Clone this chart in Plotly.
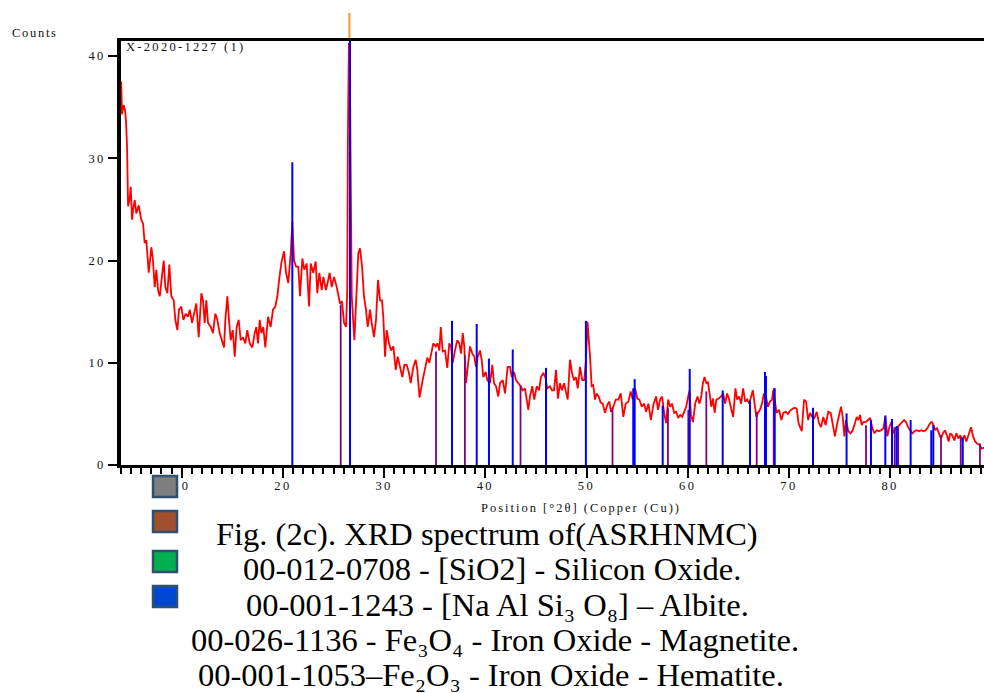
import plotly.graph_objects as go

# ---------------- data ----------------
two_theta = [4.02, 4.1, 4.25, 4.4, 4.5, 4.6, 4.7, 4.85, 4.96, 5.09, 5.2, 5.36, 5.51, 5.75, 6.0, 6.18, 6.34, 6.5, 6.74,
             7.0, 7.16, 7.33, 7.49, 7.66, 7.83, 7.99, 8.22, 8.38, 8.58, 8.78, 8.97, 9.21, 9.37, 9.57, 9.73, 9.96,
             10.16, 10.4, 10.62, 10.79, 11.02, 11.22, 11.44, 11.68, 11.94, 12.1, 12.27, 12.43, 12.6, 12.87, 13.09,
             13.32, 13.52, 13.75, 13.98, 14.18, 14.31, 14.51, 14.67, 14.84, 15.04, 15.24, 15.43, 15.63, 15.83,
             16.06, 16.28, 16.48, 16.72, 16.98, 17.21, 17.37, 17.54, 17.71, 17.87, 18.06, 18.26, 18.53, 18.79,
             19.02, 19.25, 19.45, 19.65, 19.85, 20.11, 20.31, 20.53, 20.77, 20.93, 21.1, 21.3, 21.52, 21.69, 21.92,
             22.11, 22.35, 22.58, 22.75, 23.0, 23.24, 23.4, 23.6, 23.83, 24.0, 24.26, 24.43, 24.62, 24.82, 25.05,
             25.32, 25.47, 25.64, 25.84, 26.04, 26.24, 26.36, 26.42, 26.52, 26.63, 26.72, 26.8, 27.06, 27.22, 27.45,
             27.62, 27.82, 28.01, 28.21, 28.38, 28.61, 28.77, 29.0, 29.2, 29.4, 29.6, 29.79, 29.92, 30.09, 30.26,
             30.48, 30.68, 30.91, 31.15, 31.34, 31.57, 31.8, 32.0, 32.23, 32.46, 32.63, 32.89, 33.12, 33.28, 33.5,
             33.81, 34.04, 34.27, 34.47, 34.7, 34.86, 35.1, 35.26, 35.46, 35.6, 35.79, 36.02, 36.24, 36.44, 36.61,
             36.78, 37.0, 37.23, 37.43, 37.6, 37.77, 37.92, 38.09, 38.26, 38.49, 38.71, 38.91, 39.08, 39.25, 39.48,
             39.64, 39.8, 40.04, 40.2, 40.46, 40.69, 40.86, 41.06, 41.28, 41.45, 41.72, 41.95, 42.21, 42.44, 42.61,
             42.84, 43.03, 43.26, 43.5, 43.69, 43.92, 44.09, 44.25, 44.42, 44.64, 44.84, 45.08, 45.31, 45.5, 45.73,
             45.93, 46.13, 46.39, 46.59, 46.79, 46.99, 47.18, 47.38, 47.58, 47.78, 47.97, 48.14, 48.37, 48.57,
             48.76, 48.96, 49.13, 49.36, 49.58, 49.78, 49.95, 50.1, 50.35, 50.51, 50.67, 50.84, 51.0, 51.2, 51.4,
             51.6, 51.83, 52.06, 52.26, 52.42, 52.65, 52.89, 53.14, 53.38, 53.64, 53.87, 54.13, 54.37, 54.57, 54.8,
             55.02, 55.22, 55.46, 55.69, 55.89, 56.12, 56.36, 56.61, 56.88, 57.07, 57.27, 57.47, 57.67, 57.87,
             58.07, 58.27, 58.46, 58.66, 58.86, 59.06, 59.26, 59.45, 59.65, 59.85, 60.05, 60.18, 60.32, 60.52,
             60.74, 60.97, 61.17, 61.34, 61.5, 61.66, 61.84, 62.0, 62.16, 62.33, 62.5, 62.66, 62.83, 63.06, 63.3,
             63.5, 63.7, 63.9, 64.09, 64.29, 64.49, 64.72, 64.89, 65.09, 65.28, 65.48, 65.68, 65.88, 66.08, 66.27,
             66.44, 66.61, 66.78, 66.94, 67.14, 67.34, 67.53, 67.73, 67.93, 68.13, 68.33, 68.46, 68.62, 68.79,
             69.02, 69.26, 69.45, 69.68, 69.91, 70.11, 70.35, 70.58, 70.78, 70.95, 71.11, 71.27, 71.5, 71.7, 71.9,
             72.09, 72.31, 72.51, 72.75, 72.97, 73.17, 73.4, 73.63, 73.89, 74.13, 74.33, 74.55, 74.78, 74.98,
             75.15, 75.32, 75.48, 75.64, 75.87, 76.1, 76.3, 76.53, 76.7, 76.86, 77.03, 77.19, 77.36, 77.59, 77.79,
             78.02, 78.25, 78.45, 78.68, 78.91, 79.11, 79.34, 79.53, 79.73, 79.93, 80.13, 80.33, 80.53, 80.73,
             80.92, 81.16, 81.38, 81.58, 81.78, 81.98, 82.2, 82.4, 82.64, 82.87, 83.1, 83.3, 83.53, 83.73, 83.96,
             84.13, 84.29, 84.46, 84.63, 84.83, 85.02, 85.22, 85.42, 85.62, 85.78, 85.95, 86.15, 86.35, 86.55,
             86.75, 86.94, 87.14, 87.34, 87.54, 87.77, 88.0, 88.2, 88.4, 88.59, 88.79, 89.05, 89.3]

counts = [37.5, 34.3, 35.2, 34.7, 33.5, 31.1, 25.3, 26.0, 27.2, 24.0, 25.0, 25.9, 24.6, 25.4, 24.0, 23.6, 21.7, 22.0, 18.8,
          21.3, 20.0, 17.4, 19.1, 17.1, 16.5, 18.1, 20.0, 17.4, 16.8, 19.6, 16.5, 16.1, 14.2, 13.2, 15.2, 15.5,
          14.2, 14.8, 14.5, 15.2, 13.9, 14.8, 15.8, 12.5, 16.8, 16.1, 13.9, 16.1, 13.9, 13.5, 12.9,
          14.8, 14.2, 12.9, 12.2, 11.5, 14.2, 16.5, 14.2, 12.2, 13.2, 10.6, 13.5, 14.2, 12.2,
          12.5, 11.9, 13.2, 11.9, 11.5, 12.9, 13.5, 11.9, 14.2, 12.9, 13.5, 11.5, 14.5, 13.5,
          15.2, 15.5, 16.5, 18.3, 19.8, 20.9, 18.8, 17.8, 20.7, 23.8, 20.0, 19.4, 19.4, 16.5, 20.2,
          19.1, 19.7, 15.5, 19.7, 18.8, 19.9, 16.8, 18.8, 17.1, 18.4, 17.1, 18.1, 18.8, 17.4, 18.4,
          17.4, 16.5, 15.8, 16.0, 13.9, 13.5, 17.1, 32.0, 41.3, 36.5, 25.0, 16.5, 12.2, 15.8, 20.7,
          21.2, 19.4, 16.5, 15.2, 13.5, 15.2, 13.9, 12.5, 14.2, 18.1, 16.1, 16.1, 14.5, 10.6, 13.2,
          11.9, 11.2, 11.6, 9.3, 10.6, 9.6, 8.6, 9.8, 9.8, 9.0, 8.0, 9.6, 10.3, 9.3, 6.6,
          8.3, 9.6, 10.5, 10.0, 11.2, 11.9, 11.6, 11.9, 11.2, 13.5, 11.1, 11.2, 9.5, 11.9, 11.6,
          10.0, 11.2, 12.2, 11.9, 10.9, 12.9, 11.6, 8.0, 9.6, 11.6, 10.9, 10.6, 9.6, 10.6, 11.2,
          10.3, 8.6, 9.1, 8.3, 8.0, 9.8, 8.0, 7.7, 6.7, 8.0, 8.3, 7.0, 9.6, 9.6, 8.6,
          9.1, 8.3, 8.0, 7.7, 7.3, 7.5, 6.4, 5.4, 6.7, 7.7, 6.4, 7.7, 7.3, 8.6, 9.0,
          8.6, 7.5, 7.7, 7.3, 7.3, 9.3, 6.5, 8.0, 7.3, 8.0, 7.0, 6.4, 10.3, 9.0,
          8.3, 8.6, 7.5, 9.6, 8.3, 8.3, 10.3, 14.0, 10.6, 7.7, 7.8, 6.4, 7.0, 6.7, 6.1,
          6.0, 5.1, 5.9, 6.2, 5.2, 5.7, 6.4, 6.4, 7.0, 4.7, 6.0, 6.2, 7.2, 6.4, 7.5,
          6.5, 6.4, 5.7, 6.0, 5.2, 6.0, 4.4, 5.9, 6.7, 5.4, 6.4, 6.7, 5.1, 4.1,
          6.4, 5.7, 6.0, 5.1, 5.2, 4.6, 4.9, 4.7, 5.2, 5.7, 6.7, 7.3, 4.9, 4.2,
          6.0, 6.7, 6.0, 6.7, 8.0, 8.6, 8.0, 8.1, 7.0, 5.7, 6.5, 5.1, 6.4, 6.5, 6.7,
          7.0, 6.0, 7.0, 6.4, 5.5, 4.7, 7.5, 6.4, 6.7, 6.0, 7.5, 6.2, 6.4, 6.0, 6.7,
          7.3, 6.0, 4.7, 5.1, 5.4, 6.0, 7.0, 6.7, 5.7, 6.2, 6.4, 7.3, 6.4, 5.1,
          5.4, 4.4, 5.1, 5.2, 5.0, 5.3, 5.5, 5.6, 5.5, 4.1, 3.7, 3.3, 6.4, 6.2, 4.4,
          5.1, 4.7, 4.6, 5.2, 4.1, 3.7, 4.7, 3.9, 5.2, 5.1, 4.1, 2.8, 4.1, 5.1,
          5.7, 4.7, 2.8, 4.4, 3.3, 3.1, 3.4, 4.1, 4.7, 4.4, 4.9, 3.9, 4.2, 4.2, 4.4,
          4.6, 3.6, 3.1, 3.4, 3.3, 3.4, 3.6, 4.7, 2.8, 3.7, 4.2, 3.1, 3.6, 3.7,
          3.9, 4.1, 4.4, 4.2, 3.7, 3.4, 3.1, 3.3, 3.4, 3.3, 3.4, 3.3, 3.4, 3.7, 4.1,
          4.2, 3.9, 3.4, 3.6, 3.1, 2.6, 3.1, 3.4, 2.9, 2.3, 3.1, 2.9, 2.4, 3.1,
          2.6, 2.9, 2.4, 2.9, 2.3, 3.1, 3.7, 2.8, 2.3, 2.1, 2.0, 1.6, 1.7]

# reference pattern sticks (blue)
blue_pos = [20.93, 26.63, 36.71, 39.15, 40.36, 42.71, 46.0, 49.94, 54.62, 54.76, 57.53, 60.2, 63.46, 66.16,
            67.64, 67.74, 68.6, 72.38, 75.7, 78.11, 79.53, 80.19, 80.65, 82.03, 84.07, 84.27, 87.18]
blue_h = [29.6, 42.0, 14.1, 13.8, 10.4, 11.3, 9.5, 14.1, 7.5, 8.4, 5.8, 9.4, 7.3, 6.3,
          9.1, 8.7, 7.5, 5.6, 5.05, 4.4, 4.85, 4.5, 3.8, 4.4, 3.4, 3.9, 2.7]

# reference pattern sticks (purple)
purple_pos = [25.71, 35.13, 37.98, 43.48, 52.57, 58.05, 60.06, 61.84, 66.82, 68.5, 77.62, 80.46, 80.8,
              85.03, 86.98, 88.88]
purple_h = [15.7, 11.1, 10.7, 7.8, 5.6, 5.6, 5.4, 7.2, 5.2, 7.5, 3.9, 3.7, 3.7,
            2.9, 2.7, 2.1]

# orange stick (its top shows above the frame)
orange_pos = [26.57]

x_tickvals = [10, 20, 30, 40, 50, 60, 70, 80]
y_tickvals = [0, 10, 20, 30, 40]

caption_lines = [
    "Fig. (2c). XRD spectrum of(ASRHNMC)",
    "00-012-0708 - [SiO2] - Silicon Oxide.",
    "00-001-1243 - [Na Al Si\u2083 O\u2088] \u2013 Albite.",
    "00-026-1136 - Fe\u2083O\u2084 - Iron Oxide - Magnetite.",
    "00-001-1053\u2013Fe\u2082O\u2083 - Iron Oxide - Hematite.",
]
swatch_colors = ["#7f7f7f", "#a0502d", "#00b050", "#0048d0"]

# ---------------- layout helpers ----------------
W, H = 984, 693
ML, MR, MT, MB = 121, 0, 41, 228
PW, PH = W - ML - MR, H - MT - MB
SERIF = "Liberation Serif, Times New Roman, serif"
SMALL = 12.5
INK = "#111"


def px_x(px):
    return (px - ML) / PW


def px_y(py):
    return (H - MB - py) / PH


def spaced(s, sp=2.2):
    return '<span style="letter-spacing:%.1fpx">%s</span>' % (sp, s)


def sticks(pos, h):
    xs, ys = [], []
    for p, v in zip(pos, h):
        xs += [p, p, None]
        ys += [0, v, None]
    return xs, ys


fig = go.Figure()
fig.add_trace(go.Scatter(x=two_theta, y=counts, mode="lines",
                         line=dict(color="#ff0000", width=1.8), hoverinfo="skip", showlegend=False))
px_, py_ = sticks(purple_pos, purple_h)
fig.add_trace(go.Scatter(x=px_, y=py_, mode="lines", line=dict(color="#800080", width=1.8),
                         hoverinfo="skip", showlegend=False))
bx_, by_ = sticks(blue_pos, blue_h)
fig.add_trace(go.Scatter(x=bx_, y=by_, mode="lines", line=dict(color="#0000ff", width=2),
                         hoverinfo="skip", showlegend=False))

shapes = []
for p in orange_pos:
    shapes.append(dict(type="line", xref="x", yref="paper", x0=p, x1=p, y0=1.0, y1=px_y(13),
                       line=dict(color="#f39a1e", width=2), layer="below"))

sw_tops = [476, 511, 551, 586]
for c, t in zip(swatch_colors, sw_tops):
    shapes.append(dict(type="rect", xref="paper", yref="paper",
                       x0=px_x(153), x1=px_x(177), y0=px_y(t + 21), y1=px_y(t),
                       fillcolor=c, line=dict(color="#2f5070", width=2.5), layer="above"))

ann = []
ann.append(dict(text=spaced("Counts", 1.7), xref="paper", yref="paper", x=px_x(35), y=px_y(33),
                xanchor="center", yanchor="middle", showarrow=False,
                font=dict(family=SERIF, size=SMALL, color=INK)))
ann.append(dict(text=spaced("X-2020-1227 (1)", 2.3), xref="paper", yref="paper", x=px_x(124), y=px_y(47),
                xanchor="left", yanchor="middle", showarrow=False,
                font=dict(family=SERIF, size=SMALL, color=INK)))
ann.append(dict(text=spaced("Position [\u00b02\u03b8] (Copper (Cu))", 2.0), xref="paper", yref="paper",
                x=px_x(581), y=px_y(507.5), xanchor="center", yanchor="middle", showarrow=False,
                font=dict(family=SERIF, size=SMALL, color=INK)))

cap_x = [487, 492, 497, 495, 491]
cap_y = [534, 569, 604.5, 640, 674.5]
for s, cx, cy in zip(caption_lines, cap_x, cap_y):
    ann.append(dict(text=s, xref="paper", yref="paper", x=px_x(cx), y=px_y(cy),
                    xanchor="center", yanchor="middle", showarrow=False,
                    font=dict(family=SERIF, size=32.5, color="#000")))

fig.update_layout(
    width=W, height=H, margin=dict(l=ML, r=MR, t=MT, b=MB, pad=0),
    paper_bgcolor="white", plot_bgcolor="white", showlegend=False,
    shapes=shapes, annotations=ann,
    xaxis=dict(range=[4.0, 89.28], showgrid=False, zeroline=False,
               showline=True, linecolor="black", linewidth=3, mirror=True,
               ticks="outside", ticklen=10, tickwidth=2, tickcolor="black",
               tickmode="array", tickvals=x_tickvals, ticktext=[spaced(str(v), 2.4) for v in x_tickvals],
               ticklabelstandoff=-3,
               tickfont=dict(family=SERIF, size=SMALL, color=INK),
               minor=dict(tickmode="linear", tick0=0, dtick=1, ticks="outside", ticklen=6,
                          tickwidth=1.5, tickcolor="black", showgrid=False)),
    yaxis=dict(range=[0, 41.47], showgrid=False, zeroline=False,
               showline=True, linecolor="black", linewidth=3.5,
               ticks="outside", ticklen=9, tickwidth=1.5, tickcolor="black",
               tickmode="array", tickvals=y_tickvals, ticktext=[spaced(str(v), 2.4) for v in y_tickvals],
               tickfont=dict(family=SERIF, size=SMALL, color=INK)),
)

fig.write_html("out.html")
